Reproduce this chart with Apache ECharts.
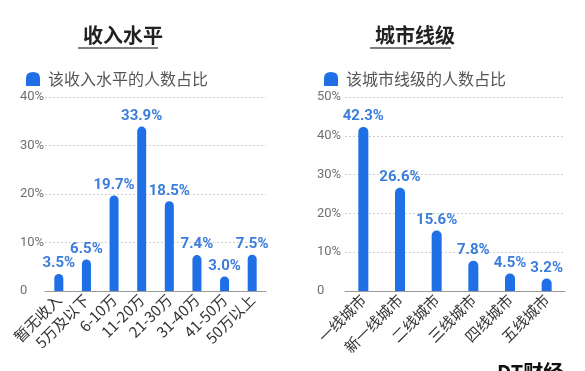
<!DOCTYPE html>
<html><head><meta charset="utf-8">
<script src="https://cdn.jsdelivr.net/npm/echarts@6/dist/echarts.min.js"></script>
<style>html,body{margin:0;padding:0;background:#fff}#c{width:585px;height:371px}</style>
</head><body><div id="c"></div>
<script>
const incomeCategories = ['暂无收入','5万及以下','6-10万','11-20万','21-30万','31-40万','41-50万','50万以上'];
const incomeValues = [3.5, 6.5, 19.7, 33.9, 18.5, 7.4, 3.0, 7.5];
const cityCategories = ['一线城市','新一线城市','二线城市','三线城市','四线城市','五线城市'];
const cityValues = [42.3, 26.6, 15.6, 7.8, 4.5, 3.2];
const incomeTicks = [0, 10, 20, 30, 40];
const cityTicks = [0, 10, 20, 30, 40, 50];

const FONT = '"Noto Sans CJK SC", "Noto Sans", sans-serif';
const BLUE = '#1f6fe6';
const LBLUE = '#3b7ddb';
const icon = 'path://M0,14 L0,6 Q0,0 7,0 Q14,0 14,6 L14,14 Z';

function yAxis(idx, ticks, margin) {
  return {
    gridIndex: idx, type: 'value', min: 0, max: ticks[ticks.length - 1], interval: 10,
    axisLine: {show: false}, axisTick: {show: false},
    axisLabel: {align: 'left', margin: margin, color: '#707070', fontSize: 13, fontFamily: 'Roboto',
      formatter: v => v === 0 ? '0' : v + '%'},
    splitLine: {show: true, lineStyle: {type: [2, 2], color: '#d0d0d0', width: 1}}
  };
}
function xAxis(idx, cats) {
  return {
    gridIndex: idx, type: 'category', data: cats,
    axisLine: {show: true, lineStyle: {color: '#9a9a9a', width: 1.2}},
    axisTick: {show: false},
    axisLabel: {rotate: 45, interval: 0, margin: 6, color: '#333', fontSize: 15, fontFamily: FONT}
  };
}
function bar(name, idx, vals, w) {
  return {
    name: name, type: 'bar', xAxisIndex: idx, yAxisIndex: idx, data: vals, barWidth: w,
    itemStyle: {color: BLUE, borderRadius: [5, 5, 0, 0]},
    label: {show: true, position: 'top', distance: 3, color: LBLUE, fontSize: 15, fontWeight: 'bold',
      fontFamily: 'Roboto', formatter: p => p.value.toFixed(1) + '%'}
  };
}

const chart = echarts.init(document.getElementById('c'), null, {renderer: 'canvas'});
chart.setOption({
  animation: false,
  backgroundColor: '#fff',
  title: [
    {text: '收入水平', left: 78, top: 20, textStyle: {fontSize: 20, fontWeight: 'bold', color: '#222', fontFamily: FONT}},
    {text: '城市线级', left: 370, top: 20, textStyle: {fontSize: 20, fontWeight: 'bold', color: '#222', fontFamily: FONT}}
  ],
  legend: [
    {data: ['该收入水平的人数占比'], left: 21, top: 66, icon: icon, itemWidth: 14, itemHeight: 14,
      textStyle: {fontSize: 16, color: '#555', fontFamily: FONT, padding: [0, 0, 0, 3]}},
    {data: ['该城市线级的人数占比'], left: 319, top: 66, icon: icon, itemWidth: 14, itemHeight: 14,
      textStyle: {fontSize: 16, color: '#555', fontFamily: FONT, padding: [0, 0, 0, 3]}}
  ],
  grid: [
    {left: 45, width: 221, top: 97, bottom: 80},
    {left: 345, width: 220, top: 97, bottom: 80}
  ],
  xAxis: [xAxis(0, incomeCategories), xAxis(1, cityCategories)],
  yAxis: [yAxis(0, incomeTicks, 25), yAxis(1, cityTicks, 28)],
  series: [bar('该收入水平的人数占比', 0, incomeValues, 9), bar('该城市线级的人数占比', 1, cityValues, 10)],
  graphic: [
    {type: 'line', shape: {x1: 78, y1: 48, x2: 158, y2: 48}, style: {stroke: '#555', lineWidth: 1.5}},
    {type: 'line', shape: {x1: 370, y1: 48, x2: 451, y2: 48}, style: {stroke: '#555', lineWidth: 1.5}},
    {type: 'text', left: 497, top: 362, style: {text: 'DT财经', fontSize: 20, fontWeight: 'bold', fill: '#111', fontFamily: FONT}}
  ]
});
</script></body></html>
